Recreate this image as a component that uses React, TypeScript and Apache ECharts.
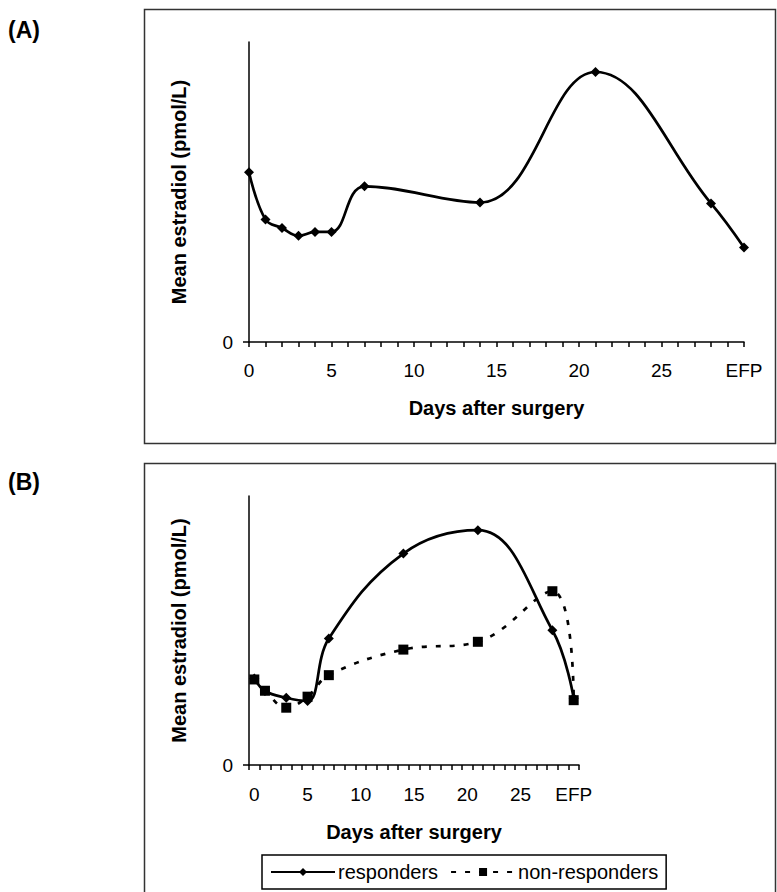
import React, { useEffect, useRef } from "react";
import * as echarts from "echarts";

// Panel A: mean estradiol, all patients (y in % of axis height; only 0 is labelled)
const daysA = [0, 1, 2, 3, 4, 5, 7, 14, 21, 28, 30];
const estradiolA = [56.6, 40.8, 38.0, 35.4, 36.7, 36.7, 51.9, 46.5, 90.0, 46.2, 31.5];

// Panel B: responders vs non-responders
const categoriesB = Array.from({ length: 30 }, (_, i) => String(i)).concat(["EFP"]);
const daysB = [0, 1, 3, 5, 7, 14, 21, 28, 30];
const responders = [32.2, 27.5, 25.0, 23.8, 47.0, 78.6, 87.3, 50.1, 24.8];
const nonResponders = [31.8, 27.6, 21.3, 25.4, 33.4, 42.9, 45.8, 64.6, 24.1];

const xTickValuesA = [0, 5, 10, 15, 20, 25, 30];
const efpLabel = "EFP";

const FONT = "'Liberation Sans', Arial, sans-serif";

export default function App() {
  const ref = useRef<HTMLDivElement>(null);
  useEffect(() => {
    if (!ref.current) return;
    const chart = echarts.init(ref.current, undefined, { renderer: "svg" });

    const axisLine = { show: true, lineStyle: { color: "#000", width: 1.5 } };
    const axisTick = { show: true, inside: false, lineStyle: { color: "#000", width: 1.5 } };
    const labelStyle = { color: "#000", fontSize: 19, fontFamily: FONT };
    const nameStyle = { color: "#000", fontSize: 20, fontWeight: "bold" as const, fontFamily: FONT };

    const yAxisBase = (gridIndex: number) => ({
      type: "value",
      gridIndex,
      min: 0,
      max: 100,
      name: "Mean estradiol (pmol/L)",
      nameLocation: "middle",
      nameGap: 60,
      nameTextStyle: nameStyle,
      axisLine,
      axisTick: { ...axisTick, length: 6, customValues: [0] },
      axisLabel: { ...labelStyle, margin: 16, customValues: [0], formatter: (v: number) => String(v) },
      splitLine: { show: false },
    });

    const lineW = 2.7;

    const option: any = {
      animation: false,
      backgroundColor: "#fff",
      textStyle: { fontFamily: FONT },
      grid: [
        { left: 249, top: 42, width: 495, height: 300 },
        { left: 249, top: 496, width: 330, height: 269 },
      ],
      xAxis: [
        {
          type: "value",
          gridIndex: 0,
          min: 0,
          max: 30,
          interval: 1,
          name: "Days after surgery",
          nameLocation: "middle",
          nameGap: 56,
          nameTextStyle: nameStyle,
          axisLine,
          axisTick: { ...axisTick, length: 5 },
          axisLabel: {
            ...labelStyle,
            margin: 19,
            customValues: xTickValuesA,
            formatter: (v: number) => (v === 30 ? efpLabel : String(v)),
          },
          splitLine: { show: false },
        },
        {
          type: "category",
          gridIndex: 1,
          data: categoriesB,
          boundaryGap: true,
          name: "Days after surgery",
          nameLocation: "middle",
          nameGap: 57,
          nameTextStyle: nameStyle,
          axisLine,
          axisTick: { ...axisTick, length: 5, interval: 0, alignWithLabel: false },
          axisLabel: {
            ...labelStyle,
            margin: 20,
            interval: (i: number) => i % 5 === 0,
          },
          splitLine: { show: false },
        },
      ],
      yAxis: [yAxisBase(0), yAxisBase(1)],
      legend: {
        data: ["responders", "non-responders"],
        left: 262,
        top: 855,
        orient: "horizontal",
        padding: [7, 8, 7, 8],
        itemGap: 12,
        itemWidth: 64,
        itemHeight: 10,
        borderColor: "#000",
        borderWidth: 1.5,
        borderRadius: 0,
        textStyle: { color: "#000", fontSize: 20, fontFamily: FONT, padding: [0, 0, 0, -2] },
      },
      graphic: [
        {
          type: "rect",
          shape: { x: 144.5, y: 9.5, width: 631, height: 434 },
          style: { fill: "none", stroke: "#333", lineWidth: 1.5 },
          silent: true,
        },
        {
          type: "rect",
          shape: { x: 144.5, y: 463.5, width: 631, height: 440 },
          style: { fill: "none", stroke: "#333", lineWidth: 1.5 },
          silent: true,
        },
        {
          type: "text",
          x: 8,
          y: 18,
          style: { text: "(A)", fill: "#000", font: `bold 23px ${FONT}` },
          silent: true,
        },
        {
          type: "text",
          x: 8,
          y: 470,
          style: { text: "(B)", fill: "#000", font: `bold 23px ${FONT}` },
          silent: true,
        },
      ],
      series: [
        {
          type: "line",
          name: "all",
          xAxisIndex: 0,
          yAxisIndex: 0,
          data: daysA.map((d, i) => [d, estradiolA[i]]),
          smooth: 0.4,
          symbol: "diamond",
          symbolSize: 10,
          showAllSymbol: true,
          itemStyle: { color: "#000" },
          lineStyle: { color: "#000", width: lineW },
        },
        {
          type: "line",
          name: "responders",
          xAxisIndex: 1,
          yAxisIndex: 1,
          data: daysB.map((d, i) => [d, responders[i]]),
          smooth: 0.4,
          symbol: "diamond",
          symbolSize: 10,
          showAllSymbol: true,
          itemStyle: { color: "#000" },
          lineStyle: { color: "#000", width: lineW },
        },
        {
          type: "line",
          name: "non-responders",
          xAxisIndex: 1,
          yAxisIndex: 1,
          data: daysB.map((d, i) => [d, nonResponders[i]]),
          smooth: 0.4,
          symbol: "rect",
          symbolSize: 10,
          showAllSymbol: true,
          itemStyle: { color: "#000" },
          lineStyle: { color: "#000", width: lineW, type: [5, 9] },
        },
      ],
    };

    chart.setOption(option);
    return () => chart.dispose();
  }, []);

  return (
    <div
      ref={ref}
      style={{ position: "absolute", left: 0, top: 0, width: 777, height: 892, background: "#fff" }}
    />
  );
}
